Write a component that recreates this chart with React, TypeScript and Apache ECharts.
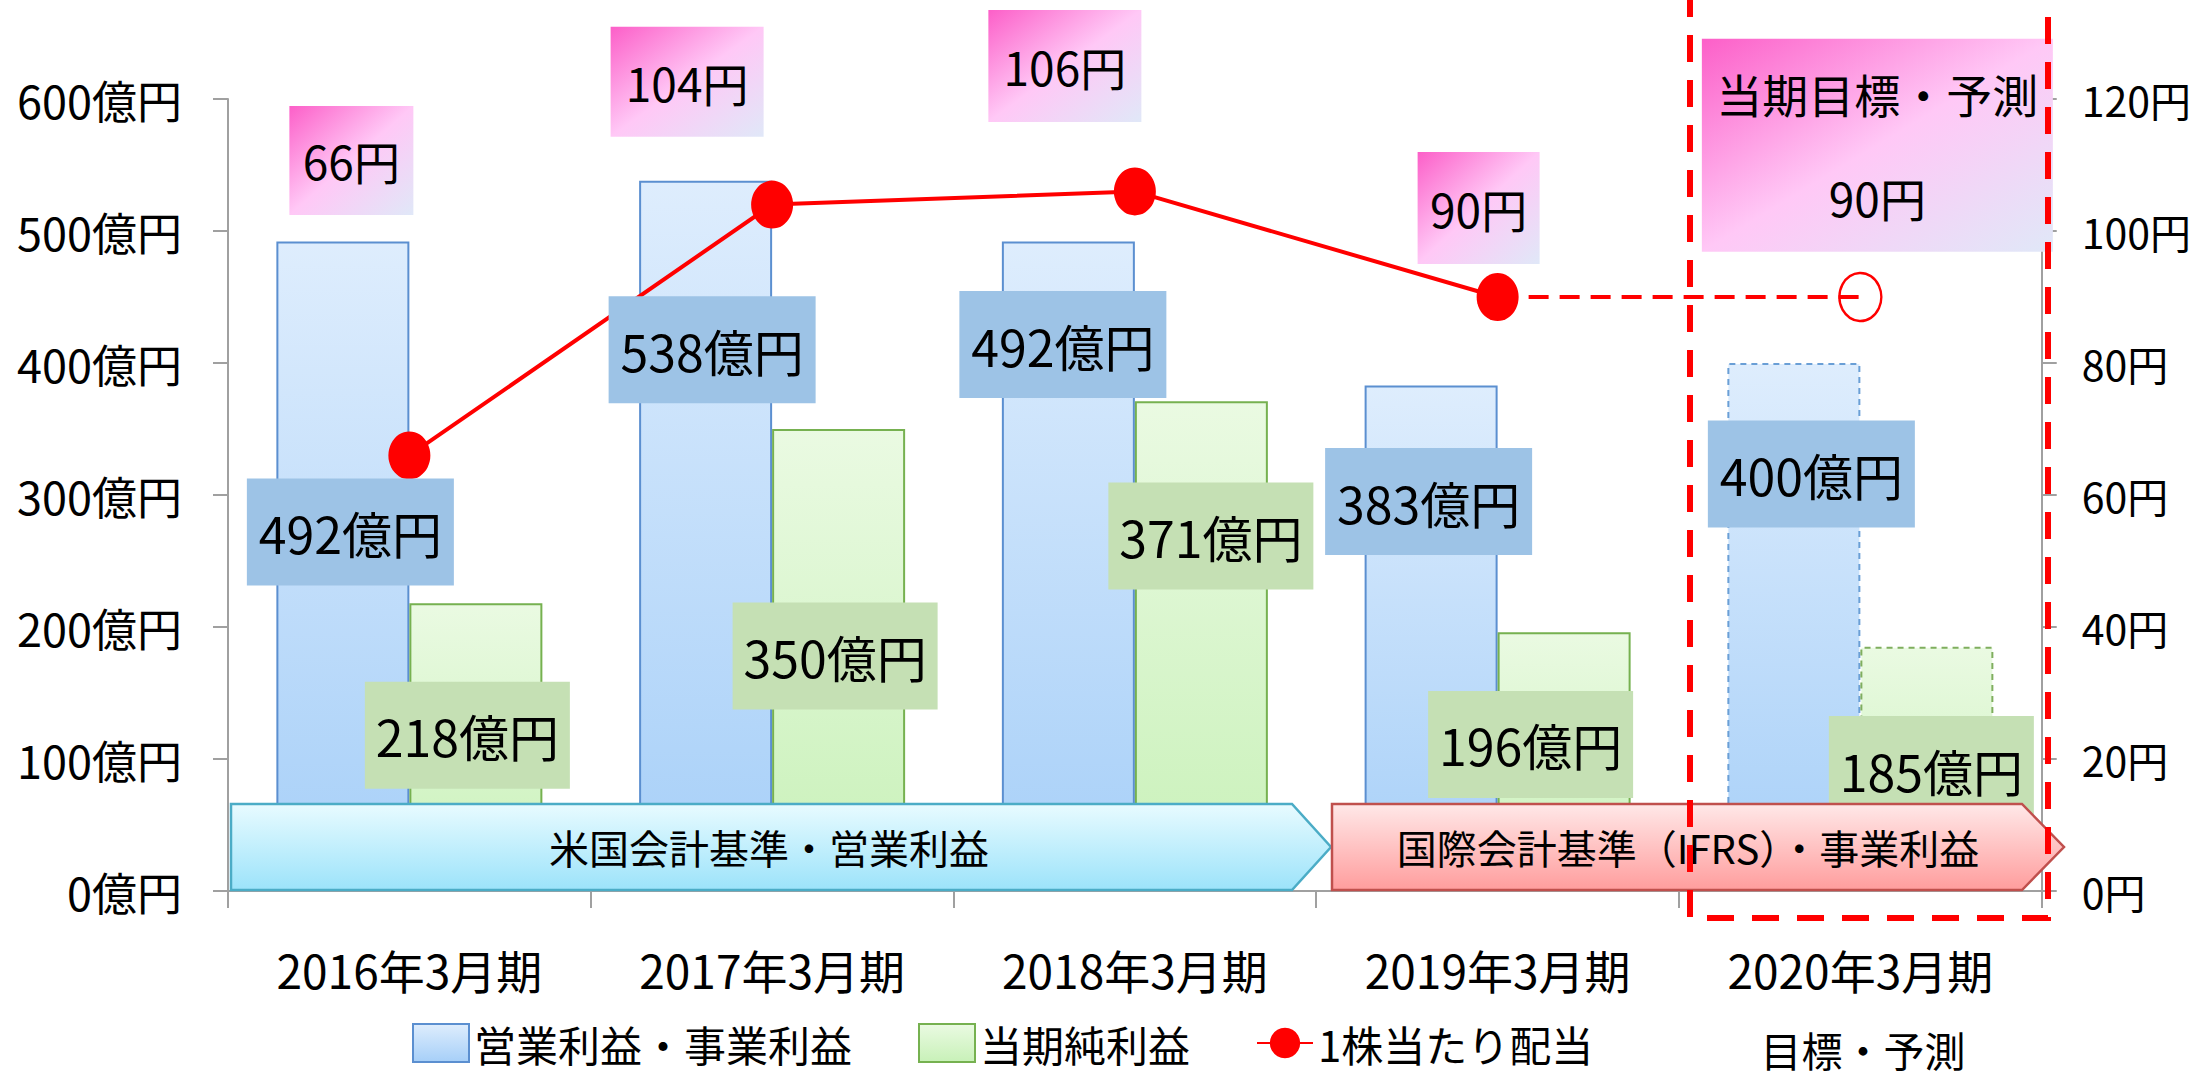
import React, { useEffect, useRef } from "react";
import * as echarts from "echarts";

// ---- data ----
const categories = ["2016年3月期", "2017年3月期", "2018年3月期", "2019年3月期", "2020年3月期"];
const operatingProfit = [492, 538, 492, 383, 400]; // 億円
const netProfit = [218, 350, 371, 196, 185]; // 億円
const dividend = [66, 104, 106, 90, 90]; // 円
const forecastIndex = 4; // 2020年3月期 = 目標・予測
const leftAxis = { min: 0, max: 600, interval: 100 };
const rightAxis = { min: 0, max: 120, interval: 20 };

// ---- label layout (anchor values on the axes + pixel shifts) ----
const opLabelAnchor = [272, 410, 414, 295, 316];
const opLabelShift = [-59, -60, -72, -69, -49];
const netLabelAnchor = [118, 178, 269, 111, 92];
const netLabelShift = [58, 63, 76, 33, 71];
const divLabelAnchor = [110.7, 122.6, 125, 103.5, 113];
const divLabelShift = [-58, -85, -70, -19, 17];
const divLabelSize = [[124, 109], [153, 110], [153, 112], [122, 112], [351, 213]];

const FONT = "'Noto Sans CJK JP', 'Noto Sans', sans-serif";

export default function App() {
  const ref = useRef<HTMLDivElement>(null);

  useEffect(() => {
    const chart = echarts.init(ref.current as HTMLDivElement, null, { renderer: "svg" });

    const blueFill = new echarts.graphic.LinearGradient(0, 0, 0, 1, [
      { offset: 0, color: "#deedfd" },
      { offset: 1, color: "#a6cff8" },
    ]);
    const greenFill = new echarts.graphic.LinearGradient(0, 0, 0, 1, [
      { offset: 0, color: "#eafae2" },
      { offset: 1, color: "#c8f1b8" },
    ]);
    const pinkFill = new echarts.graphic.LinearGradient(0, 0, 1, 1, [
      { offset: 0, color: "#fc5fc8" },
      { offset: 0.5, color: "#ffc8f6" },
      { offset: 1, color: "#e0e8f8" },
    ]);

    const option: any = {
      animation: false,
      backgroundColor: "#ffffff",
      textStyle: { fontFamily: FONT, color: "#000" },
      grid: { left: 228, right: 152, top: 99, bottom: 189, containLabel: false },
      legend: {
        left: 407,
        top: 1017,
        itemWidth: 56,
        itemHeight: 38,
        itemGap: 66,
        selectedMode: false,
        textStyle: { fontSize: 42, color: "#000", fontFamily: FONT },
        data: [
          { name: "営業利益・事業利益", icon: "rect", itemStyle: { color: blueFill, borderColor: "#5b8fd0", borderWidth: 2 } },
          { name: "当期純利益", icon: "rect", itemStyle: { color: greenFill, borderColor: "#76b150", borderWidth: 2 } },
          { name: "1株当たり配当" },
        ],
      },
      xAxis: {
        type: "category",
        data: categories,
        axisLine: { lineStyle: { color: "#a0a0a0", width: 2 } },
        axisTick: { show: true, length: 17, lineStyle: { color: "#a0a0a0", width: 2 } },
        axisLabel: { fontSize: 46, color: "#000", margin: 55, fontFamily: FONT },
        splitLine: { show: false },
      },
      yAxis: [
        {
          type: "value",
          position: "left",
          min: leftAxis.min,
          max: leftAxis.max,
          interval: leftAxis.interval,
          axisLine: { show: true, lineStyle: { color: "#a0a0a0", width: 2 } },
          axisTick: { show: true, length: 15, lineStyle: { color: "#a0a0a0", width: 2 } },
          axisLabel: { formatter: "{value}億円", fontSize: 45, color: "#000", margin: 46, fontFamily: FONT },
          splitLine: { show: false },
        },
        {
          type: "value",
          position: "right",
          min: rightAxis.min,
          max: rightAxis.max,
          interval: rightAxis.interval,
          axisLine: { show: true, lineStyle: { color: "#a0a0a0", width: 2 } },
          axisTick: { show: true, length: 15, lineStyle: { color: "#a0a0a0", width: 2 } },
          axisLabel: { formatter: "{value}円", fontSize: 41, color: "#000", margin: 40, fontFamily: FONT },
          splitLine: { show: false },
        },
      ],
      series: [
        {
          name: "営業利益・事業利益",
          type: "bar",
          barWidth: 133,
          barGap: "0%",
          z: 2,
          emphasis: { disabled: true },
          itemStyle: { color: blueFill, borderColor: "#5b8fd0", borderWidth: 2 },
          data: operatingProfit.map((v, i) =>
            i === forecastIndex ? { value: v, itemStyle: { borderType: [6, 5], borderColor: "#6a9fd6" } } : v
          ),
        },
        {
          name: "当期純利益",
          type: "bar",
          barWidth: 133,
          barGap: "0%",
          z: 2,
          emphasis: { disabled: true },
          itemStyle: { color: greenFill, borderColor: "#76b150", borderWidth: 2 },
          data: netProfit.map((v, i) =>
            i === forecastIndex ? { value: v, itemStyle: { borderType: [6, 5], borderColor: "#7fae5e" } } : v
          ),
        },
        {
          name: "1株当たり配当",
          type: "line",
          yAxisIndex: 1,
          z: 3,
          symbol: "circle",
          symbolSize: [42, 48],
          showAllSymbol: true,
          emphasis: { disabled: true },
          lineStyle: { color: "#ff0000", width: 4 },
          itemStyle: { color: "#ff0000" },
          data: dividend.map((v, i) => (i < forecastIndex ? v : "-")),
        },
        {
          name: "1株当たり配当（予想）",
          type: "line",
          yAxisIndex: 1,
          z: 3,
          showAllSymbol: true,
          emphasis: { disabled: true },
          lineStyle: { color: "#ff0000", width: 4, type: [20, 11] },
          itemStyle: { color: "#ff0000" },
          data: dividend.map((v, i) => {
            if (i < forecastIndex - 1) return "-";
            if (i === forecastIndex - 1) return { value: v, symbol: "none" };
            return {
              value: v,
              symbol: "circle",
              symbolSize: [42, 48],
              itemStyle: { color: "rgba(255,255,255,0)", borderColor: "#ff0000", borderWidth: 2.5 },
            };
          }),
        },
        {
          name: "opLabels",
          type: "scatter",
          xAxisIndex: 0,
          yAxisIndex: 0,
          z: 5,
          clip: false,
          silent: true,
          symbol: "rect",
          symbolSize: [207, 107],
          itemStyle: { color: "#9dc3e6", opacity: 1 },
          label: {
            show: true,
            position: "inside",
            fontSize: 50,
            color: "#000",
            fontFamily: FONT,
            formatter: (p: any) => `${operatingProfit[p.dataIndex]}億円`,
          },
          data: opLabelAnchor.map((v, i) => ({ value: [i, v], symbolOffset: [opLabelShift[i], 0] })),
        },
        {
          name: "netLabels",
          type: "scatter",
          xAxisIndex: 0,
          yAxisIndex: 0,
          z: 5,
          clip: false,
          silent: true,
          symbol: "rect",
          symbolSize: [205, 107],
          itemStyle: { color: "#c5e0b4", opacity: 1 },
          label: {
            show: true,
            position: "inside",
            fontSize: 50,
            color: "#000",
            fontFamily: FONT,
            formatter: (p: any) => `${netProfit[p.dataIndex]}億円`,
          },
          data: netLabelAnchor.map((v, i) => ({ value: [i, v], symbolOffset: [netLabelShift[i], 0] })),
        },
        {
          name: "divLabels",
          type: "scatter",
          xAxisIndex: 0,
          yAxisIndex: 1,
          z: 5,
          clip: false,
          silent: true,
          symbol: "rect",
          itemStyle: { color: pinkFill, opacity: 1 },
          label: {
            show: true,
            position: "inside",
            fontSize: 46,
            lineHeight: 104,
            color: "#000",
            fontFamily: FONT,
            formatter: (p: any) =>
              p.dataIndex === forecastIndex
                ? `当期目標・予測\n${dividend[p.dataIndex]}円`
                : `${dividend[p.dataIndex]}円`,
          },
          data: divLabelAnchor.map((v, i) => ({
            value: [i, v],
            symbolSize: divLabelSize[i],
            symbolOffset: [divLabelShift[i], 0],
          })),
        },
      ],
      graphic: [
        {
          type: "polygon",
          z: 100,
          silent: true,
          shape: { points: [[231, 804], [1292, 804], [1331, 847], [1292, 890], [231, 890]] },
          style: {
            fill: new echarts.graphic.LinearGradient(0, 0, 0, 1, [
              { offset: 0, color: "#e8fbff" },
              { offset: 1, color: "#9ce3fa" },
            ]),
            stroke: "#4bacc6",
            lineWidth: 2.5,
          },
        },
        {
          type: "text",
          z: 101,
          silent: true,
          x: 769,
          y: 847,
          style: {
            text: "米国会計基準・営業利益",
            fontSize: 40,
            fontFamily: FONT,
            fill: "#000",
            align: "center",
            verticalAlign: "middle",
            textAlign: "center",
            textVerticalAlign: "middle",
          },
        },
        {
          type: "polygon",
          z: 100,
          silent: true,
          shape: { points: [[1332, 804], [2022, 804], [2064, 847], [2022, 890], [1332, 890]] },
          style: {
            fill: new echarts.graphic.LinearGradient(0, 0, 0, 1, [
              { offset: 0, color: "#ffe8e8" },
              { offset: 1, color: "#ff9d9d" },
            ]),
            stroke: "#c0504d",
            lineWidth: 2.5,
          },
        },
        {
          type: "text",
          z: 101,
          silent: true,
          x: 1688,
          y: 847,
          style: {
            text: "国際会計基準（IFRS）・事業利益",
            fontSize: 40,
            fontFamily: FONT,
            fill: "#000",
            align: "center",
            verticalAlign: "middle",
            textAlign: "center",
            textVerticalAlign: "middle",
          },
        },
        {
          type: "rect",
          z: 120,
          silent: true,
          shape: { x: 1690, y: -30, width: 358, height: 948 },
          style: { fill: "none", stroke: "#ff0000", lineWidth: 6, lineDash: [27, 18] },
        },
        {
          type: "text",
          z: 101,
          silent: true,
          x: 1863,
          y: 1049,
          style: {
            text: "目標・予測",
            fontSize: 41,
            fontFamily: FONT,
            fill: "#000",
            align: "center",
            verticalAlign: "middle",
            textAlign: "center",
            textVerticalAlign: "middle",
          },
        },
      ],
    };

    chart.setOption(option);
    return () => chart.dispose();
  }, []);

  return (
    <div
      ref={ref}
      style={{ position: "fixed", left: 0, top: 0, width: 2194, height: 1080, background: "#fff" }}
    />
  );
}
